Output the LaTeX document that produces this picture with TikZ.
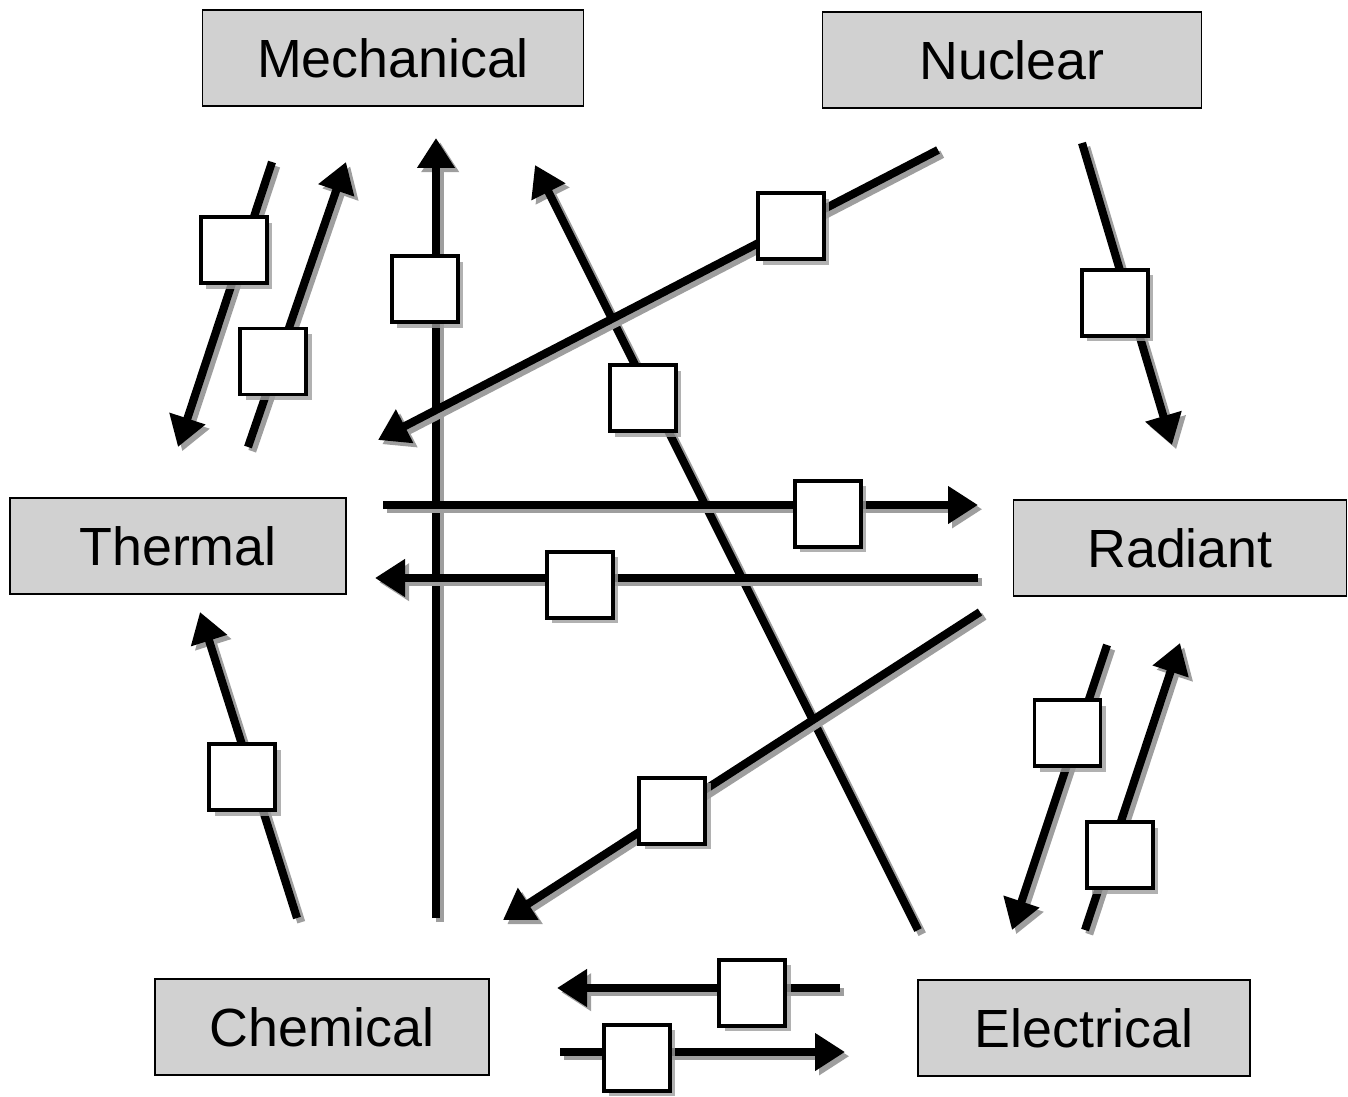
\documentclass[tikz,border=0pt]{standalone}
\usepackage{fontspec}
\setmainfont{Liberation Sans}
\usetikzlibrary{positioning}
\usetikzlibrary{arrows.meta}
\usetikzlibrary{shadows}
\definecolor{boxColor}{rgb}{0.82,0.82,0.82}
\definecolor{shadowColor}{rgb}{0.62,0.62,0.62}

\begin{document}
\begin{tikzpicture}

          \tikzstyle{energyNode} = [draw, thin, fill=boxColor, minimum height=0.96cm, font=\fontsize{15.3}{18}\selectfont];
          \tikzstyle{converterNode} = [draw, line width=1.1pt, fill=white, minimum size=0.66cm, inner sep=0pt, drop shadow={shadow xshift=1.5pt, shadow yshift=-1.5pt, fill=shadowColor, opacity=0.8}];
          \tikzstyle{plainEdge} = [line width=2.3pt, preaction={draw=shadowColor, line width=2.3pt, transform canvas={shift={(1.2pt,-1.2pt)}}}];
          \tikzstyle{flowEdge} = [plainEdge, -{Triangle[length=0.3cm, width=0.36cm]}];

          \useasboundingbox (0,0) rectangle (13.48,-10.97);

          % energy forms
          \node[energyNode, minimum width=3.81cm] (mech) at (3.93,-0.58) {Mechanical};
          \node[energyNode, minimum width=3.79cm] (nucl) at (10.12,-0.60) {Nuclear};
          \node[energyNode, minimum width=3.36cm] (therm) at (1.78,-5.46) {Thermal};
          \node[energyNode, minimum width=3.33cm] (rad) at (11.80,-5.48) {Radiant};
          \node[energyNode, minimum width=3.34cm] (chem) at (3.22,-10.27) {Chemical};
          \node[energyNode, minimum width=3.32cm] (elec) at (10.84,-10.28) {Electrical};

          % arrow ends
          \coordinate (mechThermA) at (2.72,-1.62);
          \coordinate (mechThermB) at (1.78,-4.47);
          \coordinate (thermMechA) at (2.48,-4.47);
          \coordinate (thermMechB) at (3.46,-1.62);
          \coordinate (chemMechA) at (4.36,-9.18);
          \coordinate (chemMechB) at (4.36,-1.38);
          \coordinate (elecMechA) at (9.18,-9.30);
          \coordinate (elecMechB) at (5.35,-1.65);
          \coordinate (nuclThermA) at (9.38,-1.50);
          \coordinate (nuclThermB) at (3.78,-4.40);
          \coordinate (nuclRadA) at (10.82,-1.43);
          \coordinate (nuclRadB) at (11.72,-4.45);
          \coordinate (thermRadA) at (3.83,-5.05);
          \coordinate (thermRadB) at (9.78,-5.05);
          \coordinate (radThermA) at (9.78,-5.78);
          \coordinate (radThermB) at (3.75,-5.78);
          \coordinate (radChemA) at (9.80,-6.12);
          \coordinate (radChemB) at (5.03,-9.20);
          \coordinate (chemThermA) at (2.97,-9.18);
          \coordinate (chemThermB) at (2.00,-6.12);
          \coordinate (radElecA) at (11.07,-6.45);
          \coordinate (radElecB) at (10.12,-9.30);
          \coordinate (elecRadA) at (10.85,-9.30);
          \coordinate (elecRadB) at (11.80,-6.43);
          \coordinate (elecChemA) at (8.40,-9.88);
          \coordinate (elecChemB) at (5.57,-9.88);
          \coordinate (chemElecA) at (5.60,-10.52);
          \coordinate (chemElecB) at (8.45,-10.52);

          % conversions
          \draw[flowEdge] (mechThermA) -- (mechThermB) node[converterNode, pos=0.31, xshift=-0.09cm] (cMechTherm) {};
          \draw[flowEdge] (thermMechA) -- (thermMechB) node[converterNode, pos=0.3, xshift=-0.04cm] (cThermMech) {};
          \draw[flowEdge] (chemMechA) -- (chemMechB) node[converterNode, pos=0.806, xshift=-0.11cm] (cChemMech) {};
          \draw[flowEdge] (elecMechA) -- (elecMechB) node[converterNode, pos=0.695, xshift=-0.09cm] (cElecMech) {};
          \draw[flowEdge] (nuclThermA) -- (nuclThermB) node[converterNode, pos=0.263] (cNuclTherm) {};
          \draw[flowEdge] (nuclRadA) -- (nuclRadB) node[converterNode, pos=0.53, xshift=-0.15cm] (cNuclRad) {};
          \draw[flowEdge] (thermRadA) -- (thermRadB) node[converterNode, pos=0.748, yshift=-0.09cm] (cThermRad) {};
          \draw[flowEdge] (radThermA) -- (radThermB) node[converterNode, pos=0.66, yshift=-0.07cm] (cRadTherm) {};
          \draw[flowEdge] (radChemA) -- (radChemB) node[converterNode, pos=0.645] (cRadChem) {};
          \draw[flowEdge] (chemThermA) -- (chemThermB) node[converterNode, pos=0.46, xshift=-0.1cm] (cChemTherm) {};
          \draw[flowEdge] (radElecA) -- (radElecB) node[converterNode, pos=0.31, xshift=-0.1cm] (cRadElec) {};
          \draw[flowEdge] (elecRadA) -- (elecRadB) node[converterNode, pos=0.26, xshift=0.1cm] (cElecRad) {};
          \draw[flowEdge] (elecChemA) -- (elecChemB) node[converterNode, pos=0.31, yshift=-0.05cm] (cElecChem) {};
          \draw[flowEdge] (chemElecA) -- (chemElecB) node[converterNode, pos=0.27, yshift=-0.06cm] (cChemElec) {};
        \end{tikzpicture}
\end{document}
